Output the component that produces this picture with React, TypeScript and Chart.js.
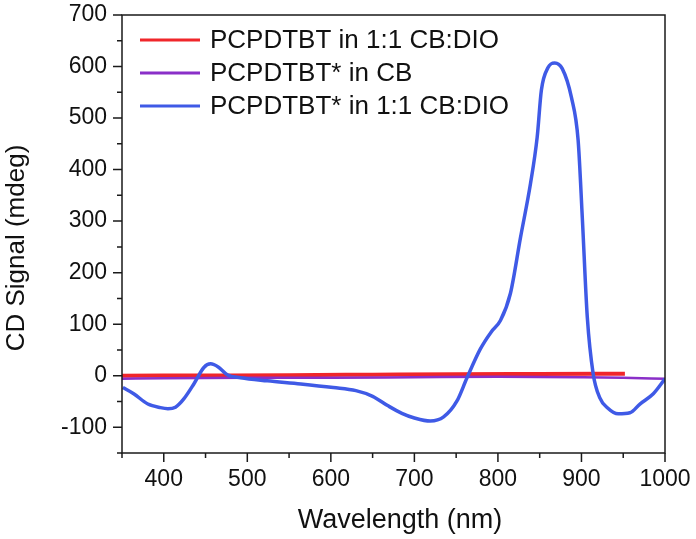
import React, { useEffect, useRef } from "react";
import { Chart, registerables } from "chart.js";

Chart.register(...registerables);

const seriesNames = [
  "PCPDTBT in 1:1 CB:DIO",
  "PCPDTBT* in CB",
  "PCPDTBT* in 1:1 CB:DIO",
];
const seriesColors = ["#f0262b", "#8a2fc8", "#3f5ae6"];
const seriesWidths = [4, 2.5, 3.5];

// PCPDTBT in 1:1 CB:DIO
const redX = [350, 450, 550, 650, 750, 850, 952];
const redY = [0, 0.5, 1, 2, 3, 3.5, 4];

// PCPDTBT* in CB
const purpleX = [350, 400, 500, 600, 700, 800, 900, 950, 1000];
const purpleY = [-6, -5, -4, -4, -3, -2, -3, -4, -6];

// PCPDTBT* in 1:1 CB:DIO
const blueX = [351, 364, 381, 396, 405, 414, 424, 436, 448, 456, 466, 476, 492, 524, 564, 603, 630, 650, 668, 685, 700, 719, 735, 751, 763, 779, 792, 803, 815, 827, 839, 847, 852, 860, 868, 877, 888, 896, 901, 907, 914, 922, 931, 944, 958, 970, 986, 1000];
const blueY = [-23, -35, -55, -62, -64, -61, -45, -16, 16, 23, 16, 2, -4, -10, -16, -23, -29, -40, -58, -73, -82, -88, -80, -49, -4, 52, 85, 107, 160, 268, 373, 463, 554, 598, 607, 596, 540, 457, 307, 113, 4, -43, -62, -74, -72, -55, -35, -6];

const xTicks = [400, 500, 600, 700, 800, 900, 1000];
const yTicks = [-100, 0, 100, 200, 300, 400, 500, 600, 700];
const xTitle = "Wavelength (nm)";
const yTitle = "CD Signal (mdeg)";

const FONT = "'Liberation Sans', Arial, sans-serif";

const toPoints = (xs: number[], ys: number[]) => xs.map((x, i) => ({ x, y: ys[i] }));

const framePlugin = {
  id: "frameAndTicks",
  afterDraw(chart: any) {
    const { ctx, chartArea } = chart;
    const xs = chart.scales.x;
    const ys = chart.scales.y;
    ctx.save();
    ctx.strokeStyle = "#1a1a1a";
    ctx.lineWidth = 1.5;
    ctx.strokeRect(chartArea.left, chartArea.top, chartArea.right - chartArea.left, chartArea.bottom - chartArea.top);
    ctx.beginPath();
    for (let v = 350; v <= 1000; v += 50) {
      const px = xs.getPixelForValue(v);
      const len = v % 100 === 0 ? 9 : 5;
      ctx.moveTo(px, chartArea.bottom);
      ctx.lineTo(px, chartArea.bottom + len);
    }
    for (let v = -150; v <= 700; v += 50) {
      const py = ys.getPixelForValue(v);
      const len = v % 100 === 0 ? 9 : 5;
      ctx.moveTo(chartArea.left, py);
      ctx.lineTo(chartArea.left - len, py);
    }
    ctx.stroke();
    // axis titles
    ctx.fillStyle = "#111";
    ctx.textBaseline = "alphabetic";
    ctx.textAlign = "center";
    ctx.font = `27px ${FONT}`;
    ctx.fillText(xTitle, 400, 528);
    ctx.save();
    ctx.translate(24, 248);
    ctx.rotate(-Math.PI / 2);
    ctx.font = `26px ${FONT}`;
    ctx.fillText(yTitle, 0, 0);
    ctx.restore();
    // legend
    const rows = [40, 73, 106];
    ctx.font = `26px ${FONT}`;
    ctx.textBaseline = "middle";
    ctx.textAlign = "left";
    seriesNames.forEach((name, i) => {
      ctx.strokeStyle = seriesColors[i];
      ctx.lineWidth = 3;
      ctx.beginPath();
      ctx.moveTo(140, rows[i]);
      ctx.lineTo(200, rows[i]);
      ctx.stroke();
      ctx.fillStyle = "#111";
      ctx.fillText(name, 210, rows[i] + 1);
    });
    ctx.restore();
  },
};

export default function App() {
  const ref = useRef<HTMLCanvasElement>(null);
  useEffect(() => {
    if (!ref.current) return;
    const data = [toPoints(redX, redY), toPoints(purpleX, purpleY), toPoints(blueX, blueY)];
    const chart = new Chart(ref.current, {
      type: "line",
      data: {
        datasets: data.map((d, i) => ({
          label: seriesNames[i],
          data: d,
          borderColor: seriesColors[i],
          backgroundColor: seriesColors[i],
          borderWidth: seriesWidths[i],
          pointRadius: 0,
          cubicInterpolationMode: "monotone" as const,
          fill: false,
          order: 3 - i,
        })),
      },
      options: {
        responsive: false,
        animation: false,
        layout: { padding: { top: 15, right: 31, left: 0, bottom: 0 } },
        plugins: { legend: { display: false }, tooltip: { enabled: false } },
        scales: {
          x: {
            type: "linear",
            min: 350,
            max: 1000,
            afterFit: (s: any) => {
              s.height = 86;
              s.paddingLeft = 0;
              s.paddingRight = 0;
            },
            afterBuildTicks: (s: any) => { s.ticks = xTicks.map((v) => ({ value: v })); },
            ticks: { color: "#111", font: { family: FONT, size: 23 }, padding: 13, maxRotation: 0, callback: (v: any) => String(v) },
            grid: { drawOnChartArea: false, drawTicks: false, display: false },
            border: { display: false },
            title: { display: false },
          },
          y: {
            type: "linear",
            min: -150,
            max: 700,
            afterFit: (s: any) => {
              s.width = 122;
              s.paddingTop = 0;
              s.paddingBottom = 0;
            },
            afterBuildTicks: (s: any) => { s.ticks = yTicks.map((v) => ({ value: v })); },
            ticks: { color: "#111", font: { family: FONT, size: 23 }, padding: 15, callback: (v: any) => String(v) },
            grid: { drawOnChartArea: false, drawTicks: false, display: false },
            border: { display: false },
            title: { display: false },
          },
        },
      },
      plugins: [framePlugin],
    });
    return () => chart.destroy();
  }, []);
  return (
    <div style={{ position: "absolute", left: 0, top: 0, width: 696, height: 539, background: "#fff" }}>
      <canvas ref={ref} width={696} height={539} />
    </div>
  );
}
